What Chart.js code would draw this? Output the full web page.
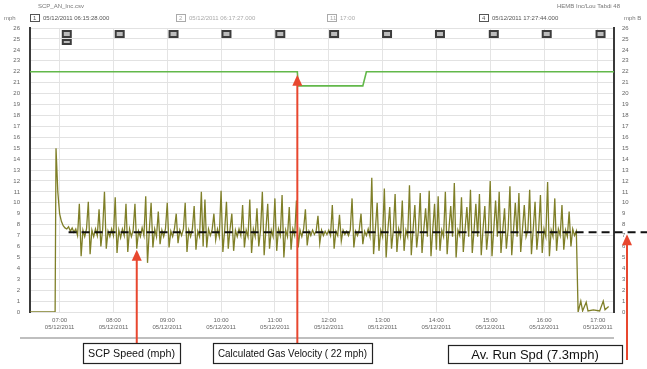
<!DOCTYPE html>
<html>
<head>
<meta charset="utf-8">
<script src="https://cdn.jsdelivr.net/npm/chart.js@4.4.1/dist/chart.umd.min.js"></script>
<style>
  html, body { margin: 0; padding: 0; background: #fff; }
  #wrap { width: 647px; height: 369px; position: relative; }
</style>
</head>
<body>
<div id="wrap"><canvas id="c" width="647" height="369"></canvas></div>
<script>
// ── Data (time in minutes after midnight) ────────────────────────────────────
const X_MIN = 387;   // 06:27
const X_MAX = 1038;  // 17:18
const hourTicks = [420, 480, 540, 600, 660, 720, 780, 840, 900, 960, 1020];
const hourLabels = ["07:00", "08:00", "09:00", "10:00", "11:00", "12:00", "13:00", "14:00", "15:00", "16:00", "17:00"];
const tickDate = "05/12/2011";
const yTicks = [0, 26];

// SCP speed before start-up and after shutdown
const leadTimes = [387, 415];
const leadValues = [0, 0];
const tailTimes = [998, 1001, 1003, 1007, 1009, 1015, 1022, 1026, 1028, 1032];
const tailValues = [0, 1.0, 0.1, 0.9, 0.1, 0.2, 0.1, 1.0, 0.2, 0.5];

// SCP speed while running, one reading every 2 min from 06:56
const speedStart = 416;
const speedStep = 2;
const speedValues = [
  15.0, 11.0, 9.0, 8.3, 7.9, 7.7, 7.6, 7.8, 7.4, 7.7,
  7.3, 7.6, 7.0, 9.9, 5.1, 7.5, 6.9, 7.6, 10.1, 5.3,
  7.5, 6.9, 7.6, 7.0, 9.4, 6.0, 7.6, 11.0, 5.8, 7.4,
  6.9, 7.6, 7.0, 10.5, 5.4, 7.5, 6.8, 7.6, 7.0, 9.9,
  5.5, 7.6, 6.9, 7.5, 9.9, 5.8, 7.4, 6.9, 7.7, 7.0,
  10.6, 4.5, 7.5, 10.0, 5.9, 7.6, 6.9, 9.2, 6.2, 7.5,
  6.9, 7.6, 10.0, 5.9, 7.4, 6.9, 7.6, 9.0, 6.3, 7.5,
  7.0, 7.6, 10.0, 5.5, 7.5, 6.9, 7.6, 9.7, 5.7, 7.4,
  6.9, 11.0, 6.0, 10.3, 5.9, 7.6, 7.0, 7.5, 9.0, 6.6,
  7.6, 6.9, 11.1, 5.5, 7.5, 10.1, 5.8, 7.6, 9.0, 5.6,
  7.5, 6.9, 7.6, 7.0, 9.8, 5.9, 7.5, 6.9, 10.3, 5.4,
  7.6, 6.9, 9.5, 6.0, 7.5, 11.0, 5.2, 7.6, 9.9, 5.8,
  7.5, 6.9, 10.4, 5.6, 7.6, 7.0, 10.7, 5.0, 7.5, 6.9,
  9.6, 5.7, 7.6, 7.0, 10.2, 5.9, 7.5, 6.9, 7.6, 9.4,
  6.1, 7.4, 7.0, 7.5, 7.1, 7.4, 8.8, 6.3, 7.5, 7.0,
  7.4, 7.1, 7.5, 7.0, 9.8, 5.8, 7.4, 7.0, 8.9, 6.5,
  7.5, 7.1, 7.4, 7.0, 7.5, 10.4, 5.9, 7.4, 7.0, 7.5,
  9.0, 6.2, 7.4, 7.0, 7.6, 6.9, 12.3, 5.3, 7.6, 10.0,
  5.6, 7.5, 6.9, 11.3, 5.0, 7.6, 9.6, 5.8, 7.5, 10.8,
  5.5, 7.6, 6.9, 10.2, 5.6, 7.5, 6.9, 11.6, 5.2, 7.6,
  9.8, 5.9, 7.5, 10.9, 5.4, 7.6, 9.5, 6.9, 11.1, 5.1,
  7.6, 9.9, 5.7, 10.6, 5.6, 7.5, 6.9, 11.0, 5.3, 7.6,
  9.7, 6.9, 11.8, 5.0, 7.5, 7.0, 10.5, 5.5, 7.6, 9.6,
  6.9, 11.2, 5.4, 7.5, 9.9, 6.9, 10.8, 5.2, 7.6, 9.7,
  5.7, 7.5, 12.0, 5.1, 7.6, 10.2, 6.9, 11.0, 5.4, 7.5,
  9.5, 5.8, 7.6, 11.5, 5.2, 7.5, 10.0, 6.9, 10.9, 5.5,
  7.6, 9.8, 6.9, 7.5, 11.2, 5.3, 7.6, 10.1, 5.7, 7.5,
  10.7, 5.4, 7.6, 6.9, 11.9, 5.1, 7.5, 6.9, 10.4, 5.6,
  7.6, 7.0, 9.8, 5.7, 7.5, 6.9, 9.2, 6.0, 7.6, 7.0,
  7.4
];

// Calculated gas velocity
const gasTimes = [387, 685, 686, 758, 762, 1038];
const gasValues = [22, 22, 20.7, 20.7, 22, 22];

// Average running speed
const avgSpeed = 7.3;
const avgStart = 430;

// Event markers along the top
const markerTimes = [428, 487, 547, 606, 666, 726, 785, 844, 904, 963, 1023];

// ── Build series ─────────────────────────────────────────────────────────────
const speedPoints = [];
leadTimes.forEach((t, i) => speedPoints.push({ x: t, y: leadValues[i] }));
speedValues.forEach((v, i) => speedPoints.push({ x: speedStart + i * speedStep, y: v }));
tailTimes.forEach((t, i) => speedPoints.push({ x: t, y: tailValues[i] }));
const gasPoints = gasTimes.map((t, i) => ({ x: t, y: gasValues[i] }));

const RED = "#e8472f";
const TICK_FONT = { family: "'Liberation Sans', Arial, sans-serif", size: 6 };

function drawArrow(ctx, x, yBase, yTip) {
    ctx.save();
    ctx.strokeStyle = RED;
    ctx.fillStyle = RED;
    ctx.lineWidth = 2;
    ctx.beginPath();
    ctx.moveTo(x, yBase);
    ctx.lineTo(x, yTip + 9);
    ctx.stroke();
    ctx.beginPath();
    ctx.moveTo(x, yTip);
    ctx.lineTo(x - 5, yTip + 11);
    ctx.lineTo(x + 5, yTip + 11);
    ctx.closePath();
    ctx.fill();
    ctx.restore();
}

// text box; text is squeezed horizontally if it would not fit
function drawBox(ctx, x0, y0, w, h, text, size) {
    ctx.save();
    ctx.fillStyle = "#fff";
    ctx.fillRect(x0, y0, w, h);
    ctx.strokeStyle = "#222";
    ctx.lineWidth = 1.2;
    ctx.strokeRect(x0 + 0.5, y0 + 0.5, w, h);
    ctx.fillStyle = "#111";
    ctx.font = size + "px 'Liberation Sans', Arial, sans-serif";
    ctx.textAlign = "center";
    ctx.textBaseline = "middle";
    const tw = ctx.measureText(text).width;
    const k = Math.min(1, (w - 10) / tw);
    ctx.translate(x0 + w / 2, y0 + h / 2 + 1);
    ctx.scale(k, 1);
    ctx.fillText(text, 0, 0);
    ctx.restore();
}

// ── Overlay: average line, header, markers, callouts ────────────────────────
const overlay = {
    id: "overlay",
    afterDraw(chart) {
        const { ctx, chartArea: a, scales: { x, y } } = chart;
        // dashed average line, runs past the right axis
        const ya = y.getPixelForValue(avgSpeed);
        ctx.save();
        ctx.strokeStyle = "#111";
        ctx.lineWidth = 2;
        ctx.setLineDash([8, 5]);
        ctx.beginPath();
        ctx.moveTo(x.getPixelForValue(avgStart), ya);
        ctx.lineTo(chart.width, ya);
        ctx.stroke();
        ctx.restore();

        // event markers
        ctx.save();
        markerTimes.forEach((t, i) => {
            const px = x.getPixelForValue(t);
            ctx.fillStyle = "#3c3c3c";
            ctx.fillRect(px - 5, a.top + 2, 10, 8);
            ctx.fillStyle = "#bbb";
            ctx.fillRect(px - 3, a.top + 4, 6, 4);
            if (i === 0) {
                ctx.fillStyle = "#3c3c3c";
                ctx.fillRect(px - 5, a.top + 11, 10, 6);
                ctx.fillStyle = "#bbb";
                ctx.fillRect(px - 3, a.top + 13, 6, 2);
            }
        });
        ctx.restore();

        // header
        ctx.save();
        ctx.font = "6px 'Liberation Sans', Arial, sans-serif";
        ctx.textBaseline = "middle";
        ctx.fillStyle = "#777";
        ctx.fillText("SCP_AN_Inc.csv", 38, 6);
        ctx.fillText("HEMB Inc/Lou Tabdi 48", 557, 6);
        ctx.fillText("mph", 4, 18);
        ctx.fillText("mph B", 624, 18);
        const hdr = [
            { px: 30, n: "1", txt: "05/12/2011 06:15:28.000", c: "#555" },
            { px: 176, n: "2", txt: "05/12/2011 06:17:27.000", c: "#aaa" },
            { px: 327, n: "11", txt: "17:00", c: "#aaa" },
            { px: 479, n: "4", txt: "05/12/2011 17:27:44.000", c: "#555" }
        ];
        hdr.forEach(h => {
            ctx.strokeStyle = h.c;
            ctx.lineWidth = 1;
            ctx.strokeRect(h.px + 0.5, 14.5, 9, 7);
            ctx.fillStyle = h.c;
            ctx.fillText(h.n, h.px + 3, 18);
            ctx.fillText(h.txt, h.px + 13, 18);
        });
        // rule under the time labels
        ctx.strokeStyle = "#aaa";
        ctx.lineWidth = 1.5;
        ctx.beginPath();
        ctx.moveTo(20, a.bottom + 26);
        ctx.lineTo(a.right, a.bottom + 26);
        ctx.stroke();
        ctx.restore();

        // callout arrows and boxes
        const boxTop = a.bottom + 31;
        drawArrow(ctx, x.getPixelForValue(506), boxTop, y.getPixelForValue(5.7));
        drawArrow(ctx, x.getPixelForValue(685), boxTop, y.getPixelForValue(22) + 3);
        drawArrow(ctx, a.right + 13, a.bottom + 48, ya + 2);
        drawBox(ctx, 83, boxTop, 97, 20, "SCP Speed (mph)", 11);
        drawBox(ctx, 213, boxTop, 159, 20, "Calculated Gas Velocity ( 22 mph)", 11);
        drawBox(ctx, 448, boxTop + 2, 174, 18, "Av. Run Spd (7.3mph)", 13);
    }
};

// ── Chart ────────────────────────────────────────────────────────────────────
new Chart(document.getElementById("c"), {
    type: "line",
    data: {
        datasets: [
            {
                label: "Calculated Gas Velocity",
                data: gasPoints,
                borderColor: "#62b84a",
                borderWidth: 1.6,
                pointRadius: 0,
                tension: 0,
            },
            {
                label: "SCP Speed (mph)",
                data: speedPoints,
                borderColor: "#7f7f28",
                borderWidth: 1.3,
                pointRadius: 0,
                tension: 0,
            },
        ],
    },
    options: {
        responsive: false,
        animation: false,
        events: [],
        layout: { padding: { top: 28, left: 0, right: 0, bottom: 0 } },
        plugins: { legend: { display: false }, tooltip: { enabled: false } },
        scales: {
            x: {
                type: "linear",
                min: X_MIN,
                max: X_MAX,
                afterBuildTicks: s => { s.ticks = hourTicks.map(v => ({ value: v })); },
                afterFit: s => { s.height = 57; },
                grid: { color: "#e4e4e4", drawTicks: false },
                border: { display: false },
                ticks: {
                    padding: 5,
                    maxRotation: 0,
                    autoSkip: false,
                    color: "#666",
                    font: TICK_FONT,
                    callback: v => [hourLabels[hourTicks.indexOf(v)], tickDate],
                },
            },
            y: {
                position: "left",
                min: yTicks[0],
                max: yTicks[1],
                afterFit: s => { s.width = 30; },
                grid: { color: "#e2e2e2", drawTicks: false },
                border: { color: "#3a3a3a", width: 2 },
                ticks: { stepSize: 1, padding: 10, color: "#666", font: TICK_FONT },
            },
            y2: {
                position: "right",
                min: yTicks[0],
                max: yTicks[1],
                afterFit: s => { s.width = 33; },
                grid: { drawOnChartArea: false, drawTicks: false },
                border: { color: "#3a3a3a", width: 2 },
                ticks: { stepSize: 1, padding: 8, color: "#666", font: TICK_FONT },
            },
        },
    },
    plugins: [overlay],
});
</script>
</body>
</html>
